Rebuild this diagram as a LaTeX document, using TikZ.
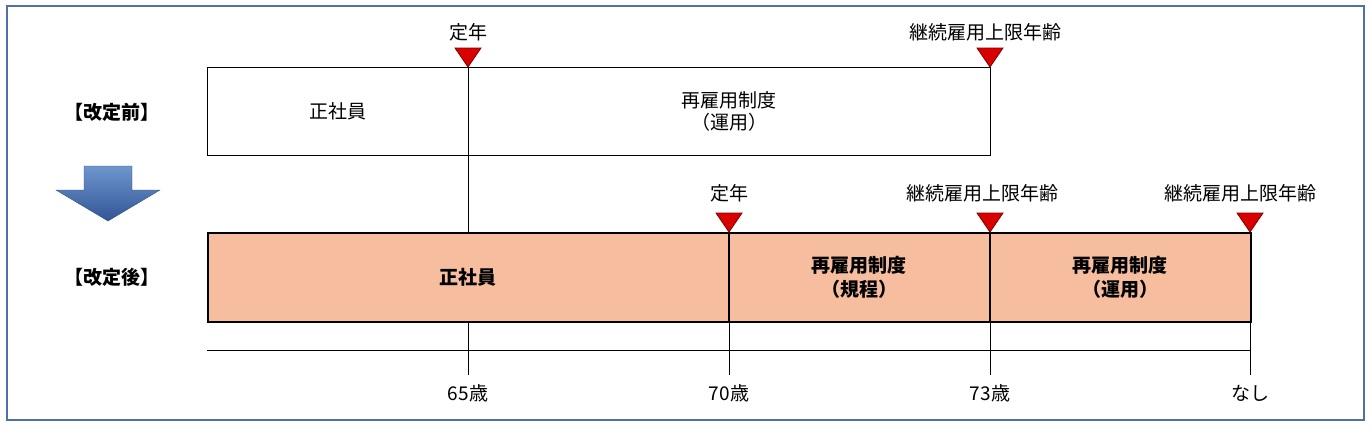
\documentclass[tikz,border=0pt]{standalone}
\usepackage{fontspec}
\setmainfont{Noto Sans CJK JP}
\newfontfamily\jpb[BoldFont={Noto Sans CJK JP Bold}]{Noto Sans CJK JP}
\begin{document}
\begin{tikzpicture}[x=1pt,y=-1pt,
  lbl/.style={font=\fontsize{19}{22}\selectfont, inner sep=0pt},
  blbl/.style={font=\fontsize{19}{24}\selectfont\bfseries, inner sep=0pt, align=center},
  tri/.style={fill=red!85!black, draw=red!50!black, line width=0.8pt},
  ln/.style={line width=1pt}]
\useasboundingbox (0,0) rectangle (1372,440);
\draw[draw={rgb,255:red,79;green,113;blue,168}, line width=1.5pt] (7,6) rectangle (1364,420);
% top box
\node[draw, ln, minimum width=783pt, minimum height=88pt, anchor=north west, inner sep=0pt] (top) at (207,67) {};
\node[lbl] (t1) at (338,111) {正社員};
\node[lbl, align=center] (t2) at (729,111) {再雇用制度\\（運用）};
% bottom box
\node[draw, line width=2pt, fill={rgb,255:red,246;green,190;blue,158}, minimum width=1043pt, minimum height=89pt, anchor=north west, inner sep=0pt] (bot) at (207,232) {};
\coordinate (d65t) at (468,67);
\coordinate (d65b) at (468,232);
\draw[ln] (d65t) -- (d65b);
\coordinate (d70t) at (729,232); \coordinate (d70b) at (729,321);
\coordinate (d73t) at (990,232); \coordinate (d73b) at (990,321);
\draw[line width=1.5pt] (d70t) -- (d70b);
\draw[line width=1.5pt] (d73t) -- (d73b);
\node[blbl] (b1) at (468,277) {正社員};
\node[blbl] (b2) at (859,277) {再雇用制度\\（規程）};
\node[blbl] (b3) at (1120,277) {再雇用制度\\（運用）};
% axis
\coordinate (a0) at (207,350); \coordinate (a1) at (1250,350);
\draw[ln] (a0) -- (a1);
\foreach \x/\t in {468/65歳,729/70歳,990/73歳,1250/なし}{
  \draw[ln] (\x,321) -- (\x,375);
  \node[lbl] at (\x,393) {\t};
}
% triangles
\foreach \x/\y in {468/67,990/67,729/232,990/232,1250/232}{
  \draw[tri] (\x-13,\y-19) -- (\x+13,\y-19) -- (\x,\y) -- cycle;
}
\node[lbl] (l1) at (468,32) {定年};
\node[lbl] (l2) at (985,32) {継続雇用上限年齢};
\node[lbl] (l3) at (729,193) {定年};
\node[lbl] (l4) at (982,193) {継続雇用上限年齢};
\node[lbl] (l5) at (1240,193) {継続雇用上限年齢};
\node[blbl] (k1) at (112,112) {【改定前】};
\node[blbl] (k2) at (112,277) {【改定後】};
% arrow
\shade[top color={rgb,255:red,110;green,150;blue,205}, bottom color={rgb,255:red,50;green,85;blue,150}, draw={rgb,255:red,50;green,80;blue,130}]
 (84,166) -- (132,166) -- (132,190) -- (160,190) -- (108,221) -- (56,190) -- (84,190) -- cycle;
\end{tikzpicture}
\end{document}
